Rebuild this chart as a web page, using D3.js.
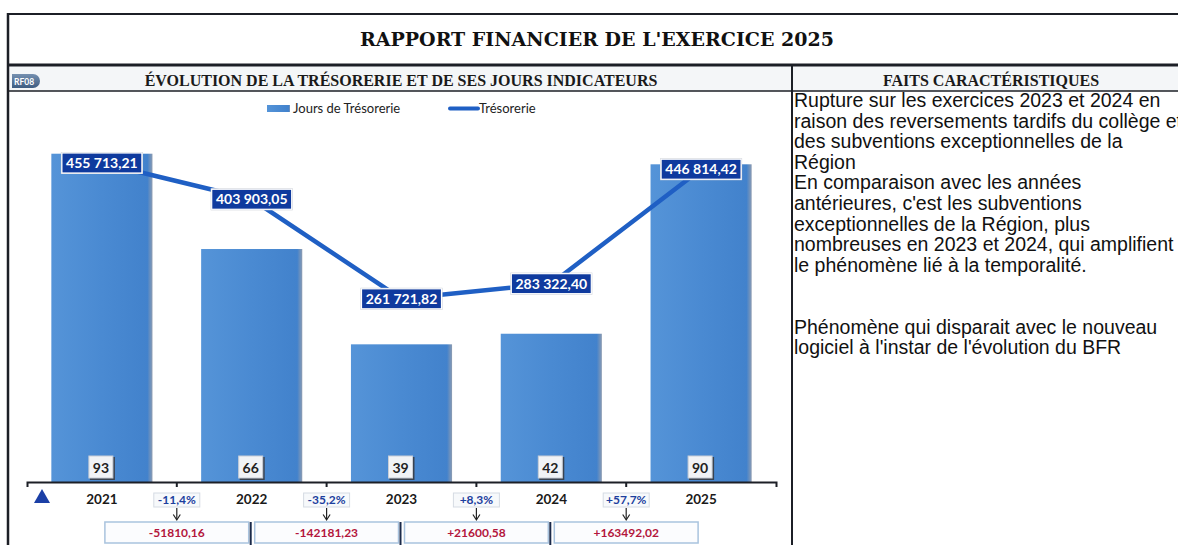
<!DOCTYPE html>
<html lang="fr">
<head>
<meta charset="utf-8">
<script src="https://cdn.jsdelivr.net/npm/d3@7"></script>
<style>
  body { margin: 0; background: #fff; }
  svg { display: block; }
</style>
</head>
<body>
<div id="rapport"></div>
<script>
// Data
const years = ["2021", "2022", "2023", "2024", "2025"];
const joursTresorerie = [93, 66, 39, 42, 90];
const tresorerie = [455713.21, 403903.05, 261721.82, 283322.4, 446814.42];
const variationPct = ["-11,4%", "-35,2%", "+8,3%", "+57,7%"];
const variationAbs = ["-51810,16", "-142181,23", "+21600,58", "+163492,02"];
const faits = [
  "Rupture sur les exercices 2023 et 2024 en",
  "raison des reversements tardifs du collège et",
  "des subventions exceptionnelles de la",
  "Région",
  "En comparaison avec les années",
  "antérieures, c'est les subventions",
  "exceptionnelles de la Région, plus",
  "nombreuses en 2023 et 2024, qui amplifient",
  "le phénomène lié à la temporalité.",
  "",
  "",
  "Phénomène qui disparait avec le nouveau",
  "logiciel à l'instar de l'évolution du BFR"
];

const width = 1178;
const height = 545;
const base = 482; // y of the category axis

const frLocale = d3.formatLocale({
  decimal: ",",
  thousands: " ",
  grouping: [3],
  currency: ["", " €"]
});
const fmtEuro = frLocale.format(",.2f");

const svg = d3
  .select("#rapport")
  .append("svg")
  .attr("width", width)
  .attr("height", height);

// Gradients
const defs = svg.append("defs");
const barGrad = defs.append("linearGradient").attr("id", "barGrad");
barGrad.append("stop").attr("offset", "0%").attr("stop-color", "#5594d8");
barGrad.append("stop").attr("offset", "50%").attr("stop-color", "#4a8ad2");
barGrad.append("stop").attr("offset", "95%").attr("stop-color", "#4282cc");
barGrad.append("stop").attr("offset", "100%").attr("stop-color", "#8d9cb2");

const badgeGrad = defs
  .append("linearGradient")
  .attr("id", "badgeGrad")
  .attr("x1", 0).attr("y1", 0).attr("x2", 0).attr("y2", 1);
badgeGrad.append("stop").attr("offset", "0%").attr("stop-color", "#7590b0");
badgeGrad.append("stop").attr("offset", "100%").attr("stop-color", "#3e5d82");

// Frame of the report
svg.append("rect")
  .attr("x", 8).attr("y", 66).attr("width", 1170).attr("height", 25)
  .attr("fill", "#f4f6f8");

const frame = svg.append("g").attr("stroke", "#1c1f26");
frame.append("line").attr("x1", 7).attr("x2", width).attr("y1", 14).attr("y2", 14).attr("stroke-width", 2);
frame.append("line").attr("x1", 8).attr("x2", 8).attr("y1", 13).attr("y2", height).attr("stroke-width", 2.5);
frame.append("line").attr("x1", 7).attr("x2", width).attr("y1", 65).attr("y2", 65).attr("stroke-width", 3);
frame.append("line").attr("x1", 7).attr("x2", width).attr("y1", 91).attr("y2", 91).attr("stroke-width", 1.5);
frame.append("line").attr("x1", 792).attr("x2", 792).attr("y1", 65).attr("y2", height).attr("stroke-width", 2);

// Headings
svg.append("text")
  .attr("x", 597).attr("y", 46)
  .attr("text-anchor", "middle")
  .style("font-family", "'DejaVu Serif', serif")
  .style("font-weight", "bold")
  .style("font-size", "19px")
  .attr("fill", "#111")
  .text("RAPPORT FINANCIER DE L'EXERCICE 2025");

svg.append("text")
  .attr("x", 401).attr("y", 86)
  .attr("text-anchor", "middle")
  .style("font-family", "'Liberation Serif', serif")
  .style("font-size", "16px")
  .style("font-weight", "bold")
  .attr("fill", "#1a1a1a")
  .text("ÉVOLUTION DE LA TRÉSORERIE ET DE SES JOURS INDICATEURS");

svg.append("text")
  .attr("x", 991).attr("y", 86)
  .attr("text-anchor", "middle")
  .style("font-family", "'Liberation Serif', serif")
  .style("font-size", "16px")
  .style("font-weight", "bold")
  .attr("fill", "#1a1a1a")
  .text("FAITS CARACTÉRISTIQUES");

// RF08 badge
svg.append("path")
  .attr("d", "M12,74 H33 A7,7 0 0 1 33,88 H12 Z")
  .attr("fill", "url(#badgeGrad)");
svg.append("text")
  .attr("x", 24).attr("y", 84.5)
  .attr("text-anchor", "middle")
  .style("font-family", "Lato, sans-serif")
  .style("font-weight", "bold")
  .style("font-size", "8.5px")
  .attr("fill", "#fff")
  .text("RF08");

// Legend
const legend = svg.append("g").style("font-family", "Lato, sans-serif").style("font-size", "13px");
legend.append("rect")
  .attr("x", 267).attr("y", 105).attr("width", 23).attr("height", 7)
  .attr("fill", "url(#barGrad)");
legend.append("text").attr("x", 293).attr("y", 113).attr("fill", "#222").text("Jours de Trésorerie");
legend.append("line")
  .attr("x1", 450).attr("x2", 478).attr("y1", 108.5).attr("y2", 108.5)
  .attr("stroke", "#1f5fc4").attr("stroke-width", 4).attr("stroke-linecap", "round");
legend.append("text").attr("x", 479).attr("y", 113).attr("fill", "#222").text("Trésorerie");

// Scales
const x = d3.scaleBand().domain(years).range([27, 776]);
const bw = x.bandwidth();
const barW = bw * 0.675;
const cx = (y) => x(y) + bw / 2;

const yDays = d3.scaleLinear().domain([0, 100]).range([base, 129]);
const yTreso = d3.scaleLinear().domain([0, 500000]).range([base, 132]);

// Bars: jours de trésorerie
svg.append("g")
  .selectAll("rect")
  .data(years)
  .join("rect")
  .attr("x", (d) => cx(d) - barW / 2)
  .attr("y", (d, i) => yDays(joursTresorerie[i]))
  .attr("width", barW)
  .attr("height", (d, i) => base - yDays(joursTresorerie[i]))
  .attr("fill", "url(#barGrad)");

// Day labels inside bars
const dayLab = svg.append("g").selectAll("g").data(years).join("g")
  .attr("transform", (d) => `translate(${cx(d)},468)`);
dayLab.append("rect")
  .attr("x", -12).attr("y", -11).attr("width", 25).attr("height", 23)
  .attr("fill", "#3a4350");
dayLab.append("rect")
  .attr("x", -13).attr("y", -12).attr("width", 24).attr("height", 22)
  .attr("fill", "#f1f3f6").attr("stroke", "#c9ced6").attr("stroke-width", 1);
dayLab.append("text")
  .attr("text-anchor", "middle").attr("x", -1).attr("y", 4.5)
  .style("font-family", "Lato, sans-serif").style("font-weight", "bold").style("font-size", "14px")
  .attr("fill", "#222")
  .text((d, i) => joursTresorerie[i]);

// Line: trésorerie
const line = d3.line()
  .x((d, i) => cx(years[i]))
  .y((d) => yTreso(d));
svg.append("path")
  .datum(tresorerie)
  .attr("d", line)
  .attr("fill", "none")
  .attr("stroke", "#1f5fc4")
  .attr("stroke-width", 4.5)
  .attr("stroke-linejoin", "round");

// Value labels on the line
const valLab = svg.append("g").selectAll("g").data(tresorerie).join("g")
  .attr("transform", (d, i) => `translate(${cx(years[i])},${yTreso(d)})`);
valLab.append("rect")
  .attr("x", -41).attr("y", -11).attr("width", 82).attr("height", 22)
  .attr("fill", "#c8ccd4");
valLab.append("rect")
  .attr("x", -40).attr("y", -10).attr("width", 80).attr("height", 20)
  .attr("fill", "#0f3a9e").attr("stroke", "#ffffff").attr("stroke-width", 1.2);
valLab.append("text")
  .attr("text-anchor", "middle").attr("y", 5)
  .style("font-family", "Lato, sans-serif").style("font-weight", "bold").style("font-size", "14px")
  .attr("fill", "#fff")
  .text((d) => fmtEuro(d));

// Category axis
const xAxis = d3.axisBottom(x).tickSize(0).tickSizeOuter(5).tickPadding(12);
const axisG = svg.append("g")
  .attr("transform", `translate(0,${base})`)
  .call(xAxis);
axisG.select(".domain").attr("stroke", "#1c1f26").attr("stroke-width", 2);
axisG.selectAll(".tick text")
  .style("font-family", "Lato, sans-serif")
  .style("font-weight", "bold")
  .style("font-size", "13.5px")
  .attr("fill", "#1a1a1a");

// Boundary ticks
svg.append("g").selectAll("line").data(years.slice(1)).join("line")
  .attr("x1", (d) => x(d)).attr("x2", (d) => x(d))
  .attr("y1", base).attr("y2", base + 5)
  .attr("stroke", "#1c1f26").attr("stroke-width", 2);

// Blue triangle marker
svg.append("path")
  .attr("d", "M42,489 L50,503 L34,503 Z")
  .attr("fill", "#1b3fa6");

// Variation in % between years
const pct = svg.append("g").selectAll("g").data(variationPct).join("g")
  .attr("transform", (d, i) => `translate(${x(years[i + 1])},0)`);
pct.append("rect")
  .attr("x", -23).attr("y", 493).attr("width", 46).attr("height", 14)
  .attr("fill", "#f7f9fb").attr("stroke", "#d5dbe3").attr("stroke-width", 1);
pct.append("text")
  .attr("text-anchor", "middle").attr("y", 504)
  .style("font-family", "Lato, sans-serif").style("font-weight", "bold").style("font-size", "12px")
  .attr("fill", "#1d3f9e")
  .text((d) => d);
pct.append("line")
  .attr("x1", 0).attr("x2", 0).attr("y1", 508).attr("y2", 519)
  .attr("stroke", "#222").attr("stroke-width", 1.2);
pct.append("path")
  .attr("d", "M-3.5,514.5 L0,520 L3.5,514.5")
  .attr("fill", "none").attr("stroke", "#222").attr("stroke-width", 1.2);

// Variation in euros between years
const abs = svg.append("g").selectAll("g").data(variationAbs).join("g");
abs.append("rect")
  .attr("x", (d, i) => cx(years[i]) + 3)
  .attr("y", 522)
  .attr("width", (d, i) => cx(years[i + 1]) - cx(years[i]) - 6)
  .attr("height", 21)
  .attr("fill", "#fbfcfe").attr("stroke", "#a9c3de").attr("stroke-width", 1.5);
abs.append("text")
  .attr("x", (d, i) => x(years[i + 1]))
  .attr("y", 537)
  .attr("text-anchor", "middle")
  .style("font-family", "Lato, sans-serif").style("font-weight", "bold").style("font-size", "12px")
  .attr("fill", "#b3163c")
  .text((d) => d);

svg.append("g").selectAll("line").data(years.slice(1, 4)).join("line")
  .attr("x1", (d) => cx(d) - 1).attr("x2", (d) => cx(d) - 1)
  .attr("y1", 522).attr("y2", height)
  .attr("stroke", "#1b2a4a").attr("stroke-width", 2);

// Faits caractéristiques
svg.append("g")
  .selectAll("text")
  .data(faits)
  .join("text")
  .attr("x", 794)
  .attr("y", (d, i) => 107 + i * 20.6)
  .style("font-family", "'Liberation Sans', Arial, sans-serif")
  .style("font-size", "19.5px")
  .attr("fill", "#111")
  .text((d) => d);
</script>
</body>
</html>
